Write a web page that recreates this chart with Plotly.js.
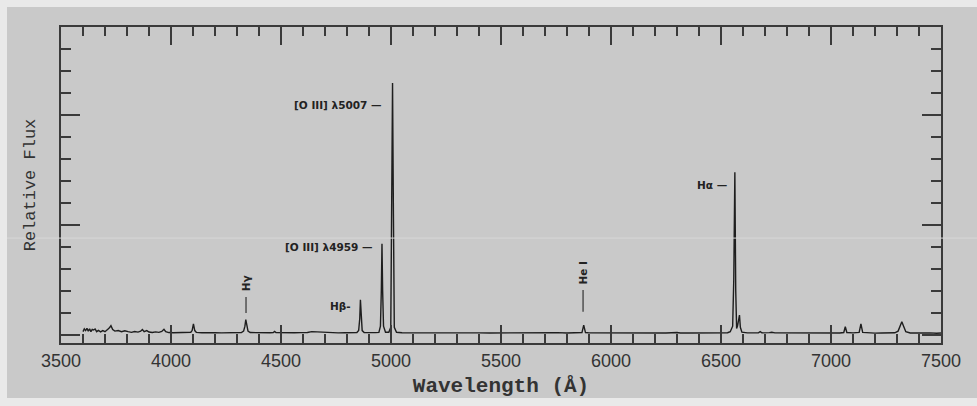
<!DOCTYPE html>
<html>
<head>
<meta charset="utf-8">
<script src="https://cdn.plot.ly/plotly-3.0.1.min.js"></script>
<style>
html,body{margin:0;padding:0;background:#e9e9e9;width:977px;height:406px;overflow:hidden;}
#chart{position:absolute;left:7px;top:7px;width:970px;height:391px;}
</style>
</head>
<body>
<div id="chart"></div>
<script>
// Spectrum: wavelength (Å) and relative flux
const wavelength = [
3600,3606,3612,3618,3624,3630,3636,3642,3648,3655,3662,3670,3680,3690,3700,3710,3718,3727,3735,3745,
3760,3775,3790,3805,3820,3835,3850,3862,3870,3878,3890,3900,3915,3930,3945,3958,3968,3976,3990,4010,
4030,4050,4070,4090,4096,4102,4108,4115,4140,4170,4200,4230,4260,4290,4320,4330,4336,4340,4344,4350,
4360,4390,4420,4450,4465,4471,4477,4500,4530,4560,4590,4620,4640,4660,4686,4700,4730,4760,4790,4820,
4845,4853,4858,4861,4864,4869,4878,4900,4930,4945,4952,4956,4959,4962,4966,4975,4990,4999,5003,5007,
5011,5015,5025,5050,5100,5150,5200,5250,5300,5350,5400,5450,5500,5550,5600,5650,5700,5755,5800,5850,
5868,5876,5884,5900,5950,6000,6050,6100,6150,6200,6250,6300,6315,6350,6400,6450,6500,6530,6542,6548,
6553,6558,6563,6567,6571,6575,6580,6584,6588,6595,6620,6650,6670,6678,6686,6720,6731,6745,6800,6850,
6900,6950,7000,7040,7058,7065,7072,7100,7128,7136,7144,7170,7200,7230,7260,7290,7305,7316,7322,7330,
7340,7360,7390,7420,7450,7480,7500
];
const flux = [
0.030,0.055,0.040,0.060,0.035,0.055,0.030,0.050,0.045,0.055,0.030,0.042,0.028,0.040,0.030,0.045,0.060,0.085,0.050,0.035,
0.040,0.030,0.038,0.030,0.024,0.032,0.026,0.034,0.050,0.030,0.040,0.027,0.022,0.028,0.024,0.032,0.052,0.030,0.022,0.020,
0.022,0.020,0.022,0.025,0.040,0.100,0.040,0.024,0.020,0.022,0.020,0.019,0.021,0.020,0.022,0.035,0.080,0.140,0.080,0.035,
0.022,0.020,0.021,0.020,0.022,0.032,0.022,0.020,0.019,0.020,0.021,0.022,0.030,0.028,0.026,0.022,0.020,0.019,0.020,0.021,
0.022,0.040,0.150,0.320,0.150,0.040,0.022,0.020,0.021,0.024,0.080,0.400,0.830,0.400,0.080,0.025,0.025,0.070,1.100,2.290,
1.100,0.070,0.025,0.020,0.019,0.020,0.019,0.018,0.019,0.018,0.019,0.018,0.019,0.018,0.019,0.018,0.018,0.021,0.018,0.019,
0.022,0.090,0.022,0.019,0.018,0.018,0.018,0.017,0.018,0.017,0.018,0.022,0.018,0.018,0.018,0.017,0.018,0.020,0.030,0.060,
0.080,0.500,1.480,0.400,0.060,0.080,0.150,0.180,0.070,0.025,0.019,0.018,0.020,0.030,0.019,0.021,0.024,0.019,0.018,0.017,
0.018,0.016,0.017,0.018,0.022,0.075,0.022,0.019,0.024,0.100,0.024,0.018,0.017,0.018,0.016,0.020,0.035,0.100,0.120,0.080,
0.030,0.018,0.020,0.017,0.019,0.016,0.018
];

// Line labels: text, anchor wavelength, anchor flux
const labelText = ["[O III] \u03bb5007 \u2014", "[O III] \u03bb4959 \u2014", "H\u03b2-", "H\u03b1 \u2014"];
const labelWave = [4966, 4925, 4829, 6538];
const labelFlux = [2.09, 0.80, 0.26, 1.36];

// Vertical labels with tick marks
const vLabelText = ["H\u03b3", "He I"];
const vLabelWave = [4341, 5873];
const vLabelFlux = [0.47, 0.56];
const vTickTop = [0.345, 0.41];
const vTickBottom = [0.20, 0.21];

const annFont = {family: "DejaVu Sans, Arial, sans-serif", size: 10.5, color: "#222"};
const annotations = [];
for (let i = 0; i < labelText.length; i++) {
  annotations.push({x: labelWave[i], y: labelFlux[i], xref: "x", yref: "y", text: "<b>" + labelText[i] + "</b>",
    showarrow: false, xanchor: "right", yanchor: "middle", font: annFont});
}
for (let i = 0; i < vLabelText.length; i++) {
  annotations.push({x: vLabelWave[i], y: vLabelFlux[i], xref: "x", yref: "y", text: "<b>" + vLabelText[i] + "</b>",
    showarrow: false, textangle: -90, xanchor: "center", yanchor: "middle", font: annFont});
}
const shapes = [];
for (let i = 0; i < vLabelText.length; i++) {
  shapes.push({type: "line", xref: "x", yref: "y", x0: vLabelWave[i], x1: vLabelWave[i], y0: vTickBottom[i], y1: vTickTop[i],
    line: {color: "#333", width: 1.2}});
}
// faint scan artefact line across the image
shapes.push({type: "line", xref: "paper", yref: "paper", x0: -0.07, x1: 1.05, y0: 0.332, y1: 0.332,
  line: {color: "#d8d8d8", width: 1}, layer: "above"});

const trace = {
  x: wavelength, y: flux, type: "scatter", mode: "lines",
  line: {color: "#1e1e1e", width: 1.4}, hoverinfo: "skip"
};

const axisLine = "#3a3a3a";
const layout = {
  width: 970, height: 391,
  margin: {l: 54, r: 36, t: 20, b: 55},
  paper_bgcolor: "#c9c9c9", plot_bgcolor: "#c9c9c9",
  showlegend: false,
  xaxis: {
    range: [3500, 7500], tick0: 3500, dtick: 500,
    ticks: "inside", ticklen: 18, tickwidth: 1.5, tickcolor: axisLine,
    minor: {dtick: 100, ticks: "inside", ticklen: 9, tickwidth: 1.5, tickcolor: axisLine},
    showline: true, linecolor: axisLine, linewidth: 2, mirror: "allticks",
    showgrid: false, zeroline: false,
    tickfont: {family: "Liberation Sans, Arial, sans-serif", size: 18, color: "#333"},
    title: {text: "<b>Wavelength (Å)</b>", standoff: 10,
      font: {family: "Liberation Mono, Courier New, monospace", size: 21, color: "#333"}}
  },
  yaxis: {
    range: [-0.073, 2.8], tick0: 0, dtick: 1,
    ticks: "inside", ticklen: 19, tickwidth: 1.5, tickcolor: axisLine,
    minor: {dtick: 0.2, ticks: "inside", ticklen: 10, tickwidth: 1.5, tickcolor: axisLine},
    showline: true, linecolor: axisLine, linewidth: 2, mirror: "allticks",
    showgrid: false, zeroline: false, showticklabels: false,
    title: {text: "Relative Flux", standoff: 19,
      font: {family: "Liberation Mono, Courier New, monospace", size: 17, color: "#333"}}
  },
  annotations: annotations,
  shapes: shapes
};

Plotly.newPlot("chart", [trace], layout, {staticPlot: true, displayModeBar: false});
</script>
</body>
</html>
